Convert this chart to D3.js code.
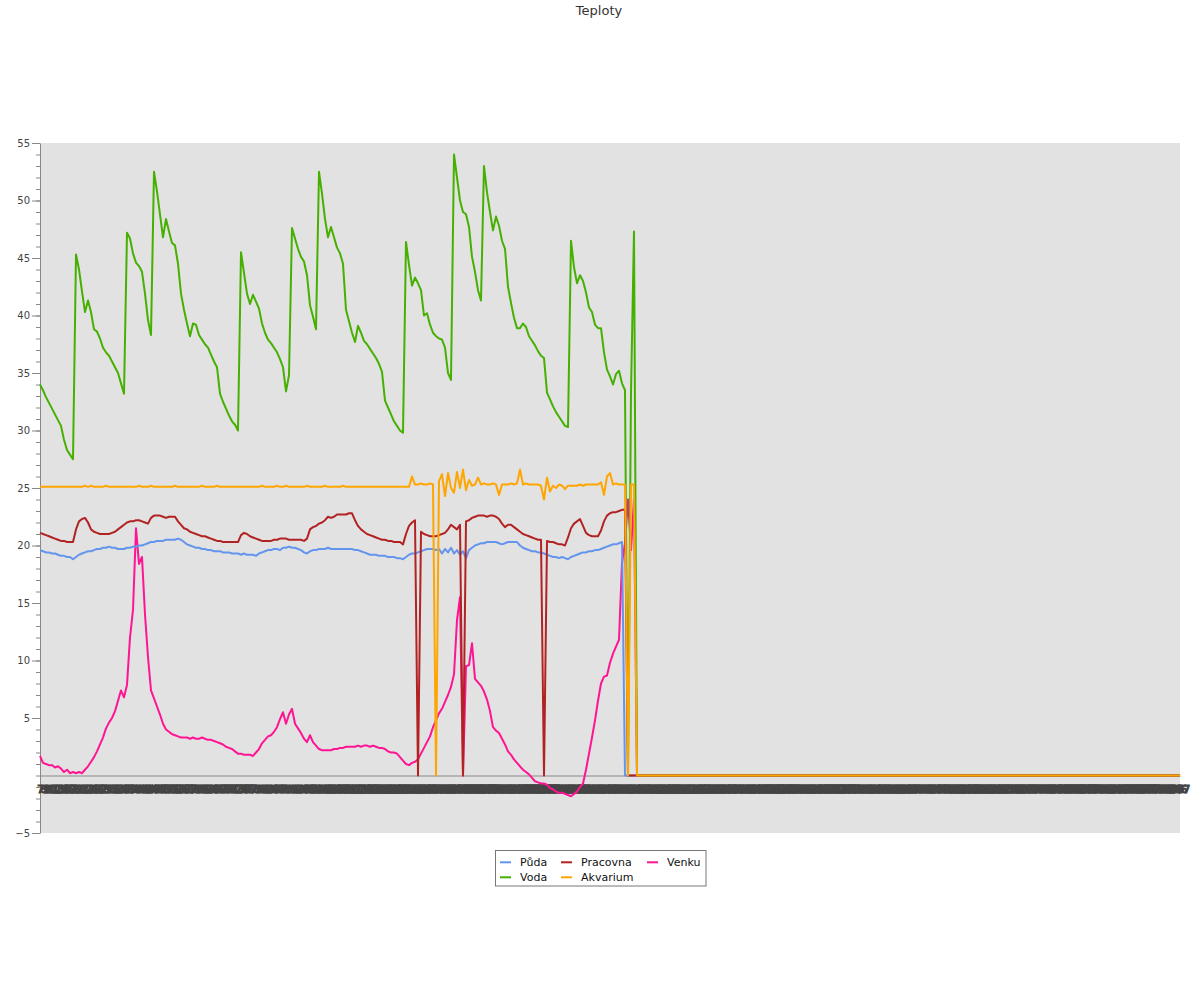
<!DOCTYPE html>
<html><head><meta charset="utf-8">
<script src="https://cdn.jsdelivr.net/npm/d3@7"></script>
<style>
body{margin:0;background:#fff}
svg{display:block;font-family:"DejaVu Sans",sans-serif}
</style>
</head><body>
<svg id="chart" width="1200" height="1000"></svg>
<script>
const chartTitle = "Teploty";
const seriesNames = ["Půda", "Voda", "Pracovna", "Akvarium", "Venku"];
const seriesColors = ["#6495ED", "#46b000", "#B22222", "#FFA500", "#FF1493"];
// x categories (sample labels, they overlap into a dark band in the original)
const categories = d3.range(381).map(i => String(i + 7));
const yMinorTicks = d3.range(-5, 56, 1);
const yMajorTicks = [-5, 5, 10, 15, 20, 25, 30, 35, 40, 45, 50, 55];

const pudaValues = [
19.6,19.5,19.4,19.4,19.3,19.3,19.2,19.1,19.1,19.0,
19.0,18.8,19.0,19.2,19.3,19.4,19.5,19.5,19.6,19.7,
19.7,19.8,19.8,19.9,19.8,19.8,19.7,19.7,19.7,19.8,
19.8,19.9,19.9,20.0,20.0,20.1,20.2,20.3,20.3,20.4,
20.4,20.4,20.5,20.5,20.5,20.5,20.6,20.5,20.3,20.1,
20.0,19.9,19.8,19.8,19.7,19.7,19.6,19.6,19.5,19.5,
19.5,19.4,19.4,19.4,19.3,19.3,19.3,19.2,19.3,19.2,
19.2,19.2,19.1,19.3,19.4,19.5,19.6,19.6,19.7,19.7,
19.6,19.8,19.8,19.9,19.8,19.8,19.7,19.6,19.4,19.3,
19.5,19.6,19.6,19.7,19.7,19.7,19.8,19.7,19.7,19.7,
19.7,19.7,19.7,19.7,19.7,19.6,19.6,19.5,19.4,19.3,
19.2,19.2,19.2,19.1,19.1,19.1,19.0,19.0,19.0,18.9,
18.9,18.8,19.0,19.2,19.3,19.3,19.4,19.5,19.6,19.7,
19.7,19.7,19.6,19.7,19.3,19.7,19.4,19.8,19.3,19.6,
19.2,19.5,18.9,19.6,19.8,20.0,20.1,20.2,20.2,20.3,
20.3,20.3,20.3,20.2,20.1,20.2,20.3,20.3,20.3,20.3,
20.0,19.8,19.7,19.6,19.5,19.5,19.4,19.4,19.3,19.2,
19.1,19.0,19.0,18.9,19.0,18.9,18.8,19.0,19.1,19.2,
19.3,19.4,19.4,19.5,19.5,19.6,19.6,19.7,19.8,19.9,
20.0,20.1,20.1,20.2,20.3,0,0,0,0,0];

const vodaValues = [
34.0,33.5,32.9,32.4,31.9,31.4,30.9,30.4,29.2,28.3,
27.9,27.5,45.3,44.0,42.1,40.3,41.3,40.3,38.8,38.6,
38.0,37.2,36.8,36.5,36.0,35.5,35.0,34.1,33.2,47.2,
46.7,45.4,44.6,44.3,43.8,41.9,39.6,38.3,52.5,50.8,
48.8,46.8,48.4,47.3,46.3,46.1,44.5,41.9,40.5,39.3,
38.2,39.3,39.2,38.3,37.9,37.5,37.2,36.6,36.0,35.5,
33.2,32.5,31.9,31.3,30.8,30.5,30.0,45.5,43.7,41.9,
41.0,41.8,41.2,40.6,39.3,38.5,37.9,37.6,37.2,36.8,
36.2,35.5,33.4,34.8,47.6,46.7,45.8,45.1,44.7,43.5,
40.9,39.9,38.8,52.5,50.6,48.4,46.8,47.7,46.8,45.9,
45.4,44.5,40.5,39.5,38.5,37.7,39.1,38.5,37.8,37.5,
37.1,36.7,36.3,35.8,35.1,32.6,32.0,31.4,30.8,30.4,
30.0,29.8,46.4,44.4,42.6,43.3,42.8,42.2,40.0,40.2,
39.2,38.5,38.2,38.0,37.9,37.2,35.0,34.4,54.0,52.0,
50.0,49.0,48.8,47.7,45.1,43.8,42.2,41.3,53.0,50.7,
49.0,47.4,48.6,47.8,46.5,45.8,42.5,41.1,39.8,38.9,
38.9,39.3,39.0,38.2,37.8,37.4,36.9,36.5,36.3,33.3,
32.7,32.1,31.6,31.2,30.8,30.4,30.3,46.5,44.2,42.8,
43.5,43.0,42.0,40.7,40.3,39.2,38.9,38.9,36.8,35.3,
34.7,34.0,34.9,35.2,34.1,33.5,0,33.3,47.3,0];

const pracovnaValues = [
21.1,21.0,20.9,20.8,20.7,20.6,20.5,20.4,20.4,20.3,
20.3,20.3,21.4,22.1,22.3,22.4,22.0,21.4,21.2,21.1,
21.0,21.0,21.0,21.0,21.1,21.2,21.4,21.6,21.8,22.0,
22.1,22.1,22.2,22.2,22.1,22.0,21.9,22.4,22.6,22.6,
22.6,22.5,22.4,22.5,22.5,22.5,22.1,21.8,21.5,21.4,
21.2,21.1,21.0,20.9,20.8,20.8,20.7,20.6,20.5,20.4,
20.4,20.3,20.3,20.3,20.3,20.3,20.3,20.9,21.1,21.0,
20.8,20.7,20.6,20.5,20.4,20.4,20.4,20.4,20.5,20.5,
20.6,20.6,20.6,20.5,20.5,20.5,20.5,20.5,20.4,20.6,
21.4,21.6,21.7,21.9,22.0,22.2,22.5,22.4,22.5,22.7,
22.7,22.7,22.7,22.8,22.8,22.2,21.7,21.4,21.2,21.0,
20.9,20.8,20.7,20.6,20.5,20.5,20.4,20.4,20.3,20.3,
20.3,20.1,21.0,21.7,22.0,22.2,0,21.2,21.0,20.9,
20.8,20.8,20.8,20.9,21.0,21.1,21.4,21.8,21.6,21.4,
21.8,0,22.1,22.2,22.4,22.5,22.6,22.6,22.6,22.5,
22.6,22.6,22.5,22.3,21.9,21.6,21.8,21.8,21.6,21.4,
21.2,21.0,20.9,20.8,20.7,20.6,20.5,20.5,0,20.4,
20.3,20.3,20.2,20.1,20.1,20.0,20.7,21.5,21.9,22.1,
22.3,21.7,21.1,20.9,20.8,20.8,20.8,21.3,22.1,22.6,
22.8,22.9,22.9,23.0,23.1,23.1,0,0,0,0];

const akvariumValues = [
25.1,25.1,25.1,25.1,25.1,25.1,25.1,25.1,25.1,25.1,
25.1,25.1,25.1,25.1,25.1,25.2,25.1,25.2,25.1,25.1,
25.1,25.1,25.2,25.1,25.1,25.1,25.1,25.1,25.1,25.1,
25.1,25.1,25.1,25.2,25.1,25.1,25.1,25.2,25.1,25.1,
25.1,25.1,25.1,25.1,25.1,25.2,25.1,25.1,25.1,25.1,
25.1,25.1,25.1,25.1,25.2,25.1,25.1,25.1,25.1,25.2,
25.1,25.1,25.1,25.1,25.1,25.1,25.1,25.1,25.1,25.1,
25.1,25.1,25.1,25.1,25.2,25.1,25.1,25.1,25.1,25.2,
25.1,25.1,25.2,25.1,25.1,25.1,25.1,25.1,25.1,25.2,
25.1,25.1,25.1,25.1,25.1,25.2,25.1,25.1,25.1,25.1,
25.1,25.2,25.1,25.1,25.1,25.1,25.1,25.1,25.1,25.1,
25.1,25.1,25.1,25.1,25.1,25.1,25.1,25.1,25.1,25.1,
25.1,25.1,25.1,25.1,26.0,25.3,25.3,25.4,25.3,25.3,
25.4,25.3,0,25.6,26.2,24.3,26.3,25.0,24.6,26.4,
25.0,26.6,24.8,25.7,25.2,25.3,25.9,25.3,25.4,25.3,
25.3,25.4,25.3,24.4,25.3,25.3,25.3,25.4,25.3,25.4,
26.6,25.3,25.4,25.3,25.3,25.3,25.3,25.2,24.0,25.9,
24.7,25.2,25.0,25.3,25.2,24.9,25.2,25.2,25.2,25.2,
25.3,25.2,25.3,25.3,25.3,25.3,25.3,25.5,24.4,26.0,
26.3,25.3,25.4,25.3,25.3,25.3,0,25.3,25.3,0];

const venkuValues = [
1.7,1.1,1.0,0.9,0.9,0.7,0.8,0.6,0.3,0.5,
0.2,0.3,0.2,0.3,0.2,0.5,0.8,1.2,1.6,2.1,
2.7,3.3,4.1,4.6,5.0,5.6,6.5,7.4,6.8,7.9,
12.0,14.4,21.5,18.4,19.0,14.0,10.3,7.4,6.7,6.0,
5.3,4.5,4.0,3.8,3.6,3.5,3.4,3.3,3.3,3.3,
3.2,3.3,3.2,3.2,3.3,3.2,3.1,3.1,3.0,2.9,
2.8,2.7,2.5,2.4,2.3,2.1,1.9,1.9,1.8,1.8,
1.8,1.7,2.0,2.3,2.8,3.1,3.4,3.5,3.8,4.2,
4.9,5.5,4.5,5.3,5.8,4.5,4.1,3.7,3.2,2.9,
3.5,2.9,2.6,2.3,2.2,2.2,2.2,2.2,2.3,2.3,
2.4,2.4,2.5,2.5,2.5,2.5,2.6,2.5,2.6,2.6,
2.5,2.6,2.5,2.4,2.4,2.3,2.1,2.0,2.0,1.9,
1.6,1.3,1.0,0.9,1.1,1.2,1.4,1.9,2.4,2.9,
3.4,4.2,4.8,5.4,5.8,6.4,7.0,7.7,8.8,13.5,
15.5,0,9.5,9.6,11.5,8.4,8.1,7.8,7.3,6.6,
5.6,4.2,3.9,3.7,3.2,2.7,2.1,1.8,1.4,1.1,
0.8,0.5,0.3,0.1,-0.2,-0.5,-0.6,-0.7,-0.7,-0.8,
-1.1,-1.2,-1.4,-1.5,-1.5,-1.6,-1.7,-1.8,-1.6,-1.4,
-1.0,-0.7,0.5,1.9,3.3,4.8,6.5,8.0,8.6,8.7,
9.8,10.6,11.2,11.8,18.5,20.2,24.0,19.6,24.0,0];

const seriesValues = [pudaValues, vodaValues, pracovnaValues, akvariumValues, venkuValues];

const svg = d3.select("#chart");
const plotLeft = 40, plotRight = 1180, plotTop = 143, plotBottom = 833;
const x = d3.scalePoint().domain(categories).range([plotLeft, plotRight]);
const y = d3.scaleLinear().domain([-5, 55]).range([plotBottom, plotTop]);

// plot background
svg.append("rect").attr("x", plotLeft).attr("y", plotTop)
  .attr("width", plotRight - plotLeft).attr("height", plotBottom - plotTop).attr("fill", "#e2e2e2");

// title
svg.append("text").attr("x", 599).attr("y", 15).attr("text-anchor", "middle")
  .attr("font-size", 13).attr("fill", "#333").text(chartTitle);

// y axis: minor ticks
const gMinor = svg.append("g").attr("transform", `translate(${plotLeft},0)`)
  .call(d3.axisLeft(y).tickValues(yMinorTicks).tickSize(4).tickSizeOuter(0).tickFormat(""));
gMinor.select(".domain").remove();
gMinor.selectAll("line").attr("stroke", "#888");

// y axis: major ticks + labels
const gMajor = svg.append("g").attr("transform", `translate(${plotLeft},0)`)
  .call(d3.axisLeft(y).tickValues(yMajorTicks).tickSize(8).tickSizeOuter(0).tickPadding(2));
gMajor.select(".domain").attr("stroke", "#888");
gMajor.selectAll("line").attr("stroke", "#888");
gMajor.selectAll("text").attr("font-family", "DejaVu Sans").attr("font-size", 10).attr("fill", "#444");

// x axis at zero with overlapping category labels (they merge into a dark band)
const gx = svg.append("g").attr("transform", `translate(0,${y(0)})`)
  .call(d3.axisBottom(x).tickSize(0).tickSizeOuter(0).tickPadding(10));
gx.select(".domain").attr("stroke", "#888");
gx.selectAll("text").attr("font-family", "DejaVu Sans").attr("font-size", 10)
  .attr("fill", "#444").attr("stroke", "#444").attr("stroke-width", 1.2);

// lines (missing samples beyond the recorded data are plotted at 0)
const drawOrder = [4, 0, 1, 2, 3];
const line = d3.line().x(d => x(d[0])).y(d => y(d[1]));
drawOrder.forEach(si => {
  const vals = seriesValues[si];
  const pts = categories.map((c, i) => [c, i < vals.length ? vals[i] : 0]);
  svg.append("path").datum(pts)
    .attr("fill", "none")
    .attr("stroke", seriesColors[si])
    .attr("stroke-width", 2)
    .attr("stroke-linejoin", "round")
    .attr("d", line);
});

// legend
const lg = svg.append("g");
lg.append("rect").attr("x", 495.5).attr("y", 850.5).attr("width", 210.5).attr("height", 35.5)
  .attr("fill", "#fff").attr("stroke", "#777");
const colX = [500, 561, 647];
const rowY = [862.3, 877.3];
seriesNames.forEach((name, i) => {
  const cx = colX[Math.floor(i / 2)], cy = rowY[i % 2];
  lg.append("line").attr("x1", cx).attr("x2", cx + 11).attr("y1", cy).attr("y2", cy)
    .attr("stroke", seriesColors[i]).attr("stroke-width", 2);
  lg.append("text").attr("x", cx + 20).attr("y", cy + 3.5)
    .attr("font-size", 11).attr("fill", "#111").text(name);
});
</script>
</body></html>
